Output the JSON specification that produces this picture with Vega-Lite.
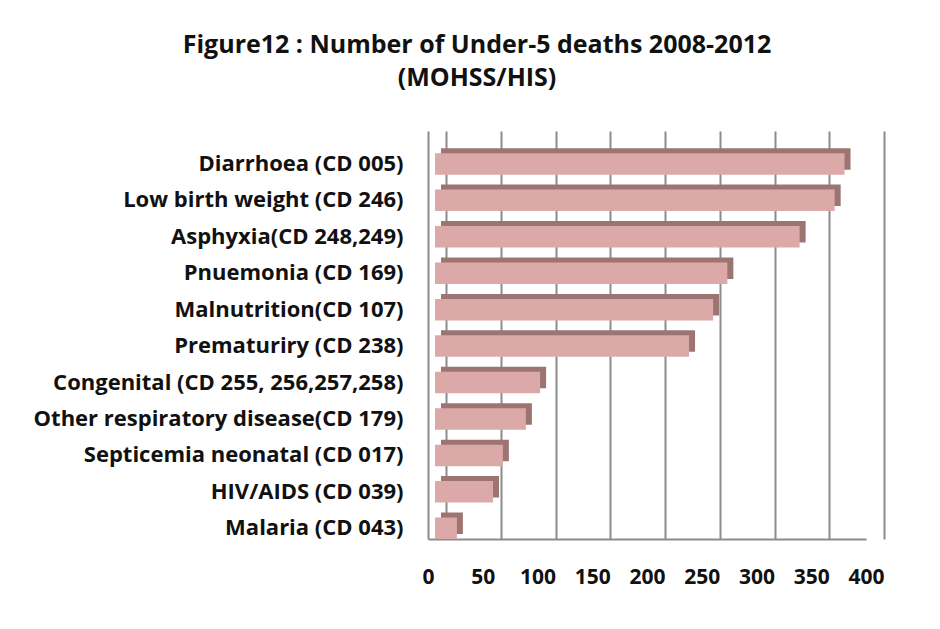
{
  "$schema": "https://vega.github.io/schema/vega-lite/v6.json",
  "autosize": {"type": "none"},
  "width": 438,
  "height": 408,
  "padding": {"left": 428, "top": 131, "right": 74, "bottom": 90},
  "background": "white",
  "title": {
    "text": ["Figure12 :  Number of Under-5  deaths 2008-2012", "(MOHSS/HIS)"],
    "font": "Open Sans",
    "fontSize": 25,
    "fontWeight": "bold",
    "color": "#111111",
    "anchor": "middle",
    "frame": "group",
    "dx": -170,
    "offset": 40,
    "lineHeight": 33
  },
  "data": {
    "values": [
      {"cause": "Diarrhoea (CD 005)", "deaths": 374},
      {"cause": "Low birth weight (CD 246)", "deaths": 365},
      {"cause": "Asphyxia(CD 248,249)", "deaths": 333},
      {"cause": "Pnuemonia (CD 169)", "deaths": 267},
      {"cause": "Malnutrition(CD 107)", "deaths": 254},
      {"cause": "Prematuriry (CD 238)", "deaths": 232},
      {"cause": "Congenital (CD 255, 256,257,258)", "deaths": 96},
      {"cause": "Other respiratory disease(CD 179)", "deaths": 83},
      {"cause": "Septicemia neonatal  (CD 017)", "deaths": 62},
      {"cause": "HIV/AIDS (CD 039)", "deaths": 53},
      {"cause": "Malaria (CD 043)", "deaths": 20}
    ]
  },
  "encoding": {
    "y": {
      "field": "cause",
      "type": "nominal",
      "sort": null,
      "scale": {"paddingInner": 0.41, "paddingOuter": 0.304, "align": 1},
      "axis": {
        "title": null,
        "ticks": false,
        "grid": false,
        "domain": true,
        "domainColor": "#8c8c8c",
        "domainWidth": 2,
        "labelFont": "Open Sans",
        "labelFontSize": 22,
        "labelFontWeight": "bold",
        "labelColor": "#111111",
        "labelPadding": 25,
        "labelLimit": 0
      }
    },
    "x": {
      "field": "deaths",
      "type": "quantitative",
      "scale": {"domain": [0, 400], "nice": false},
      "axis": {
        "title": null,
        "values": [0, 50, 100, 150, 200, 250, 300, 350, 400],
        "grid": true,
        "gridColor": "#8c8c8c",
        "gridWidth": 2,
        "ticks": false,
        "tickOffset": 18,
        "labelOffset": -18,
        "domain": true,
        "domainColor": "#8c8c8c",
        "domainWidth": 2,
        "labelFont": "Open Sans",
        "labelFontSize": 21,
        "labelFontWeight": "bold",
        "labelColor": "#111111",
        "labelPadding": 27,
        "labelFlush": false
      }
    }
  },
  "layer": [
    {
      "mark": {"type": "bar", "color": "#9c7472", "xOffset": 13, "x2Offset": 13, "yOffset": -5, "y2Offset": -5}
    },
    {
      "mark": {"type": "bar", "color": "#dba9a8", "xOffset": 7, "x2Offset": 7}
    }
  ],
  "config": {"view": {"stroke": null}}
}
